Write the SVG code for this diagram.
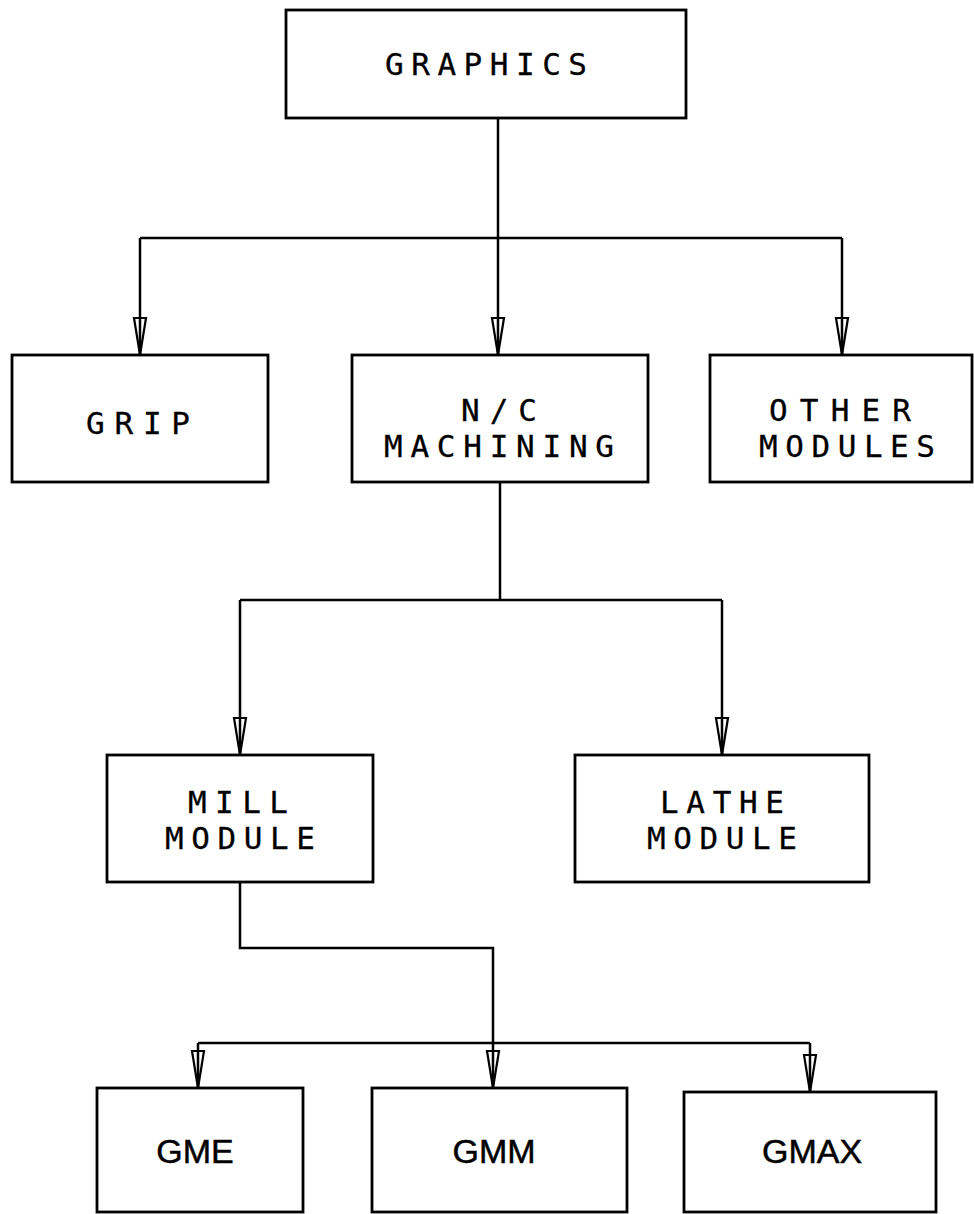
<svg xmlns="http://www.w3.org/2000/svg" width="974" height="1214" viewBox="0 0 974 1214">
<defs>
<style>
.box{fill:#fff;stroke:#000;stroke-width:2.8}
.c{fill:none;stroke:#000;stroke-width:2.5}
.t{font-family:"DejaVu Sans Mono","Liberation Mono",monospace;font-size:31px;fill:#000;stroke:#000;stroke-width:0.3;text-anchor:middle}
.h{font-family:"Liberation Sans",Arial,sans-serif;font-size:34px;fill:#000;stroke:#000;stroke-width:0.5;text-anchor:middle}
</style>
<marker id="arr" markerUnits="userSpaceOnUse" viewBox="-39 -8 41 16" refX="0" refY="0" markerWidth="41" markerHeight="16" orient="auto">
<path d="M-37,-6 L-37,6 L0,0 Z" fill="none" stroke="#000" stroke-width="2.2"/>
</marker>
</defs>
<g id="connectors">
<path class="c" d="M498,118 V238"/>
<path class="c" d="M140,238 H842"/>
<path class="c" d="M140,238 V355" marker-end="url(#arr)"/>
<path class="c" d="M498,238 V355" marker-end="url(#arr)"/>
<path class="c" d="M842,238 V355" marker-end="url(#arr)"/>
<path class="c" d="M500,482 V600"/>
<path class="c" d="M240,600 H722"/>
<path class="c" d="M240,600 V755" marker-end="url(#arr)"/>
<path class="c" d="M722,600 V755" marker-end="url(#arr)"/>
<path class="c" d="M240,882 V948 H493 V1043"/>
<path class="c" d="M198,1043 H810"/>
<path class="c" d="M198,1043 V1088" marker-end="url(#arr)"/>
<path class="c" d="M493,1043 V1088" marker-end="url(#arr)"/>
<path class="c" d="M810,1043 V1092" marker-end="url(#arr)"/>
</g>
<g id="graphics">
<rect class="box" x="286" y="10" width="400" height="108"/>
<text class="t" x="486" y="75" textLength="202" lengthAdjust="spacing">GRAPHICS</text>
</g>
<g id="grip">
<rect class="box" x="12" y="355" width="256" height="127"/>
<text class="t" x="138" y="434" textLength="104" lengthAdjust="spacing">GRIP</text>
</g>
<g id="nc-machining">
<rect class="box" x="352" y="355" width="296" height="127"/>
<text class="t" x="499" y="421" textLength="76" lengthAdjust="spacing">N/C</text>
<text class="t" x="499" y="457" textLength="230" lengthAdjust="spacing">MACHINING</text>
</g>
<g id="other-modules">
<rect class="box" x="710" y="355" width="262" height="127"/>
<text class="t" x="840" y="421" textLength="142" lengthAdjust="spacing">OTHER</text>
<text class="t" x="847" y="457" textLength="176" lengthAdjust="spacing">MODULES</text>
</g>
<g id="mill-module">
<rect class="box" x="107" y="755" width="266" height="127"/>
<text class="t" x="238" y="813" textLength="100" lengthAdjust="spacing">MILL</text>
<text class="t" x="240" y="849" textLength="150" lengthAdjust="spacing">MODULE</text>
</g>
<g id="lathe-module">
<rect class="box" x="575" y="755" width="294" height="127"/>
<text class="t" x="722" y="813" textLength="124" lengthAdjust="spacing">LATHE</text>
<text class="t" x="722" y="849" textLength="150" lengthAdjust="spacing">MODULE</text>
</g>
<g id="gme">
<rect class="box" x="97" y="1088" width="206" height="124"/>
<text class="h" x="195" y="1163">GME</text>
</g>
<g id="gmm">
<rect class="box" x="372" y="1088" width="255" height="124"/>
<text class="h" x="494" y="1163">GMM</text>
</g>
<g id="gmax">
<rect class="box" x="684" y="1092" width="252" height="120"/>
<text class="h" x="812" y="1163">GMAX</text>
</g>
</svg>
